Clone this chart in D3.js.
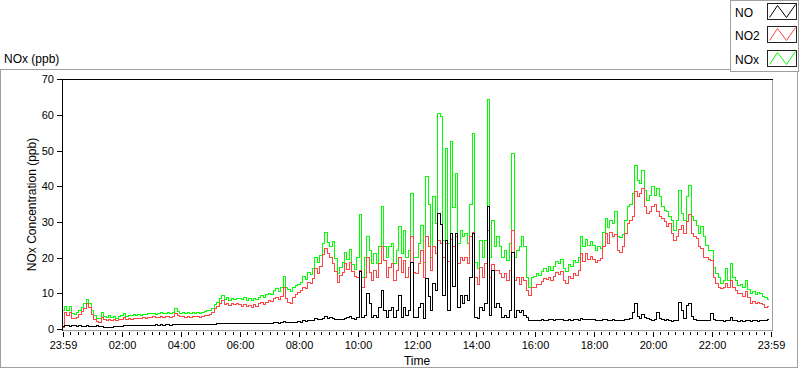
<!DOCTYPE html>
<html><head><meta charset="utf-8">
<script src="https://cdn.jsdelivr.net/npm/d3@7"></script>
<style>
html,body{margin:0;padding:0;background:#fff;}
svg{display:block;font-family:"Liberation Sans",Arial,sans-serif;}
</style></head><body>
<svg id="c" width="800" height="369"></svg>
<script>
// ---- data (5-minute values, one row per hour) ----
const seriesNames = ["NO", "NO2", "NOx"];
const seriesColors = ["#000000", "#ff4444", "#00ff00"];
const stepMinutes = 5;

const noValues = [
  0.6, 1.0, 0.9, 0.7, 0.9, 0.8, 0.7, 0.8, 0.6, 0.7, 0.8, 0.7,
  0.7, 0.6, 0.8, 0.6, 0.7, 0.5, 0.4, 0.5, 0.5, 0.6, 0.6, 0.7,
  0.7, 0.8, 0.8, 0.9, 0.8, 0.9, 0.9, 0.8, 1.0, 0.9, 1.0, 1.0,
  1.0, 1.0, 1.1, 1.0, 1.1, 1.0, 1.1, 1.1, 1.0, 1.2, 1.2, 1.1,
  1.1, 1.1, 1.2, 1.1, 1.2, 1.1, 1.2, 1.1, 1.2, 1.2, 1.2, 1.2,
  1.2, 1.3, 1.3, 1.4, 1.4, 1.5, 1.4, 1.5, 1.4, 1.5, 1.4, 1.5,
  1.4, 1.5, 1.4, 1.5, 1.4, 1.5, 1.6, 1.5, 1.5, 1.6, 1.5, 1.6,
  1.6, 1.5, 1.7, 1.7, 1.6, 1.8, 2.0, 1.9, 1.7, 1.8, 1.8, 1.9,
  2.0, 1.9, 2.2, 2.1, 2.3, 2.2, 2.4, 2.8, 2.5, 2.7, 3.0, 3.4,
  3.0, 3.2, 2.8, 2.6, 2.5, 2.7, 2.6, 2.9, 3.2, 3.5, 2.8, 2.6,
  3.3, 16.0, 3.3, 3.8, 9.9, 7.0, 3.3, 3.8, 3.3, 6.0, 10.8, 5.0,
  3.3, 5.0, 6.0, 3.3, 5.0, 9.3, 3.3, 6.0, 3.8, 5.0, 18.7, 3.3,
  3.3, 6.0, 7.0, 3.0, 14.0, 9.0, 5.0, 12.7, 10.8, 32.3, 29.4, 9.3,
  24.8, 5.0, 26.7, 12.0, 26.7, 6.0, 9.3, 7.0, 9.3, 8.0, 14.5, 26.7,
  3.3, 3.0, 6.0, 5.0, 7.0, 34.2, 3.8, 16.4, 6.0, 7.0, 6.0, 3.3,
  3.8, 3.3, 5.0, 21.5, 3.3, 5.0, 4.5, 5.0, 3.8, 3.3, 2.4, 2.4,
  2.3, 2.4, 2.2, 2.5, 2.4, 2.3, 2.6, 2.5, 2.4, 2.7, 2.5, 2.6,
  2.4, 2.3, 2.5, 2.4, 2.6, 2.5, 2.4, 2.8, 2.6, 2.5, 2.7, 2.5,
  2.5, 2.3, 2.4, 2.2, 2.5, 2.6, 2.4, 2.3, 2.5, 2.4, 2.2, 2.3,
  2.3, 2.5, 2.6, 2.8, 4.5, 7.0, 3.5, 3.0, 4.0, 3.2, 2.8, 2.6,
  2.4, 2.6, 4.7, 3.0, 2.5, 2.2, 2.6, 2.3, 2.1, 2.4, 2.2, 7.5,
  5.0, 3.0, 6.5, 7.0, 3.5, 2.6, 2.4, 2.3, 2.4, 2.2, 2.3, 2.2,
  4.2, 2.5, 2.3, 2.2, 2.3, 2.1, 2.2, 2.3, 3.2, 2.4, 2.2, 2.1,
  2.2, 2.1, 2.3, 2.2, 2.1, 2.2, 2.3, 2.1, 2.2, 2.3, 2.4, 2.5
];

const no2Values = [
  0.3, 4.5, 3.8, 4.6, 3.0, 2.9, 3.3, 4.0, 4.8, 5.8, 7.0, 6.0,
  4.0, 2.6, 2.1, 1.9, 3.3, 2.5, 2.4, 2.7, 2.3, 2.5, 2.3, 2.6,
  2.7, 3.2, 2.6, 2.8, 2.7, 2.9, 2.8, 3.0, 2.9, 3.1, 3.0, 3.2,
  3.2, 3.4, 3.1, 3.3, 3.4, 3.2, 3.4, 3.5, 3.3, 3.4, 4.3, 3.7,
  3.4, 3.5, 3.2, 3.5, 3.3, 3.5, 3.4, 3.4, 3.3, 3.5, 3.7, 3.8,
  4.1, 4.5, 5.6, 6.3, 7.2, 7.8, 6.9, 7.2, 6.5, 7.0, 6.8, 7.1,
  6.8, 6.3, 6.9, 6.2, 6.6, 6.1, 6.7, 6.3, 7.0, 7.3, 6.8, 7.4,
  8.0, 7.6, 8.6, 8.8, 8.3, 9.0, 11.6, 8.5, 7.5, 7.2, 8.9, 9.6,
  10.3, 10.8, 11.7, 11.2, 13.0, 12.6, 14.2, 16.8, 15.6, 17.5, 20.8, 22.5,
  21.0, 20.0, 18.4, 16.2, 13.1, 15.0, 15.8, 18.2, 16.6, 18.5, 16.0, 14.6,
  14.5, 16.4, 11.7, 14.5, 20.0, 15.9, 13.6, 16.4, 14.5, 18.3, 23.0, 19.3,
  14.5, 17.3, 18.3, 13.6, 16.4, 20.0, 15.9, 19.3, 14.5, 17.3, 25.8, 15.9,
  15.5, 18.3, 22.0, 14.5, 25.8, 23.0, 16.4, 23.0, 21.0, 24.8, 24.0, 20.0,
  24.0, 19.0, 25.0, 23.0, 25.8, 18.3, 20.0, 19.3, 20.0, 18.3, 25.8, 27.0,
  14.5, 12.5, 17.3, 14.5, 18.3, 27.6, 14.5, 18.0, 16.4, 16.4, 15.5, 14.5,
  15.5, 13.6, 16.4, 27.6, 13.6, 14.5, 12.5, 14.5, 13.6, 10.8, 9.3, 11.7,
  11.7, 12.3, 12.5, 13.2, 14.0, 13.8, 14.4, 13.6, 14.6, 15.8, 15.2, 16.2,
  13.5, 12.8, 14.6, 14.0, 15.5, 15.0, 16.4, 21.0, 19.0, 21.0, 19.5, 20.2,
  19.5, 18.5, 19.2, 19.8, 23.0, 26.7, 24.0, 27.0, 25.8, 26.5, 22.0, 21.5,
  23.0, 26.7, 29.5, 30.5, 31.4, 38.5, 37.0, 38.0, 39.4, 34.2, 32.3, 33.0,
  34.2, 35.0, 33.0, 31.4, 31.0, 30.0, 28.6, 29.5, 26.8, 24.8, 26.0, 28.0,
  29.0, 26.8, 30.0, 32.0, 26.8, 26.0, 25.2, 23.0, 22.4, 20.0, 20.0, 19.5,
  19.2, 14.5, 12.8, 11.7, 11.2, 11.5, 12.7, 11.7, 13.6, 11.6, 10.8, 9.8,
  9.8, 9.2, 10.5, 8.8, 7.0, 7.6, 7.0, 7.5, 7.2, 6.8, 6.0, 6.2
];

const noxValues = [
  5.0, 6.3, 5.2, 6.2, 4.3, 4.0, 4.5, 5.2, 6.0, 7.0, 8.2, 7.2,
  5.0, 3.6, 3.0, 2.8, 4.6, 3.4, 3.2, 3.6, 3.1, 3.4, 3.0, 3.5,
  3.6, 4.4, 3.5, 3.8, 3.6, 3.9, 3.7, 4.0, 3.8, 4.1, 3.9, 4.2,
  4.2, 4.4, 4.1, 4.3, 4.5, 4.2, 4.4, 4.6, 4.3, 4.5, 5.6, 4.8,
  4.4, 4.6, 4.2, 4.5, 4.3, 4.6, 4.4, 4.5, 4.3, 4.6, 4.8, 5.0,
  5.2, 5.6, 6.8, 7.5, 8.6, 9.4, 8.3, 8.7, 7.9, 8.4, 8.1, 8.5,
  8.6, 8.2, 8.8, 8.0, 8.4, 7.9, 8.5, 8.1, 8.9, 9.3, 8.7, 9.5,
  10.0, 9.6, 10.8, 11.2, 10.5, 11.5, 14.8, 11.6, 10.9, 10.4, 11.6, 12.2,
  12.4, 13.0, 14.6, 13.8, 15.9, 15.2, 17.0, 20.0, 18.6, 20.5, 24.0, 27.0,
  24.2, 23.0, 24.6, 19.8, 15.6, 17.3, 18.6, 21.5, 19.4, 22.2, 18.0, 16.5,
  20.0, 32.0, 14.5, 20.0, 25.8, 22.0, 18.3, 21.0, 18.3, 23.0, 34.2, 23.0,
  20.0, 23.0, 24.0, 18.3, 22.0, 28.6, 21.0, 27.7, 20.0, 22.0, 38.0, 20.0,
  20.0, 24.0, 29.0, 18.7, 42.6, 35.0, 20.0, 37.0, 29.5, 60.4, 59.7, 24.8,
  50.6, 24.0, 52.5, 34.0, 43.6, 24.0, 27.7, 26.0, 26.7, 24.0, 35.0, 54.8,
  18.7, 17.0, 24.8, 20.0, 24.8, 64.2, 20.0, 30.4, 23.0, 26.0, 23.0, 20.0,
  22.0, 19.3, 24.0, 49.2, 20.0, 22.0, 23.0, 26.0, 23.0, 14.5, 11.7, 14.5,
  14.6, 15.4, 15.0, 16.0, 16.8, 16.2, 17.5, 16.4, 17.6, 19.0, 18.2, 19.5,
  17.0, 16.2, 18.0, 17.5, 19.2, 18.6, 20.0, 26.0, 23.0, 25.0, 23.5, 24.6,
  23.5, 22.0, 23.0, 22.5, 27.0, 31.0, 28.5, 30.4, 29.5, 32.8, 26.0, 25.5,
  26.5, 30.4, 34.2, 35.0, 38.0, 45.9, 41.7, 40.7, 44.5, 38.9, 36.0, 37.5,
  39.8, 37.5, 39.5, 37.0, 34.2, 33.3, 33.0, 31.5, 30.4, 27.6, 30.4, 38.9,
  32.3, 30.4, 37.0, 40.3, 31.4, 30.4, 29.0, 26.8, 28.6, 26.0, 23.5, 22.0,
  22.0, 17.3, 15.5, 14.5, 12.7, 13.5, 17.0, 13.6, 18.3, 14.5, 13.6, 12.2,
  12.5, 11.5, 13.6, 11.0, 9.8, 10.5, 9.5, 10.2, 9.8, 9.0, 8.9, 8.2
];

const xTickMinutes = [0, 120, 240, 360, 480, 600, 720, 840, 960, 1080, 1200, 1320, 1440];
const xTickLabels = ["23:59", "02:00", "04:00", "06:00", "08:00", "10:00", "12:00", "14:00", "16:00", "18:00", "20:00", "22:00", "23:59"];
const yTicks = [0, 10, 20, 30, 40, 50, 60, 70];

// ---- drawing ----
const svg = d3.select("#c");
const x = d3.scaleLinear().domain([0, 1440]).range([63, 771]);
const y = d3.scaleLinear().domain([0, 70]).range([328.8, 79.3]);

// panel frame
svg.append("rect").attr("x", 0.5).attr("y", 69.5).attr("width", 797).attr("height", 298)
  .attr("fill", "#fff").attr("stroke", "#a0a0a0").attr("shape-rendering", "crispEdges");

// title
svg.append("text").attr("x", 4).attr("y", 62.5).attr("font-size", 12).attr("fill", "#000").text("NOx (ppb)");

// plot area frame (gray right/bottom)
const g = svg.append("g");
g.append("line").attr("x1", 772.5).attr("x2", 772.5).attr("y1", 79).attr("y2", 331)
  .attr("stroke", "#a0a0a0").attr("shape-rendering", "crispEdges");
g.append("line").attr("x1", 62).attr("x2", 773).attr("y1", 330.5).attr("y2", 330.5)
  .attr("stroke", "#a0a0a0").attr("shape-rendering", "crispEdges");

// series lines (staircase, as in the reference)
const allSeries = [noValues, no2Values, noxValues];
const drawOrder = [2, 1, 0];
const line = d3.line()
  .x((d, i) => x(i * stepMinutes))
  .y(d => y(d))
  .curve(d3.curveStep);
drawOrder.forEach(k => {
  g.append("path").datum(allSeries[k])
    .attr("d", line)
    .attr("fill", "none")
    .attr("stroke", seriesColors[k])
    .attr("stroke-width", 1)
    .attr("shape-rendering", "crispEdges");
});

// black left/top frame
g.append("line").attr("x1", 62.5).attr("x2", 62.5).attr("y1", 79).attr("y2", 331)
  .attr("stroke", "#000").attr("shape-rendering", "crispEdges");
g.append("line").attr("x1", 62).attr("x2", 773).attr("y1", 79.5).attr("y2", 79.5)
  .attr("stroke", "#000").attr("shape-rendering", "crispEdges");

// y axis
const yAxis = d3.axisLeft(y).tickValues(yTicks).tickSize(5).tickSizeOuter(0).tickPadding(3);
const ya = svg.append("g").attr("transform", "translate(62,0)").call(yAxis);
ya.select(".domain").remove();
ya.selectAll("line").attr("stroke", "#000").attr("shape-rendering", "crispEdges");
ya.selectAll("text").attr("font-size", 11).attr("fill", "#000").attr("font-family", "Liberation Sans, Arial, sans-serif");

// x axis: minor ticks every 15 min
const minorTicks = d3.range(0, 1441, 15).filter(m => m % 120 !== 0);
const xa = svg.append("g");
xa.selectAll("line.minor").data(minorTicks).join("line").attr("class", "minor")
  .attr("x1", d => Math.round(x(d)) + 0.5).attr("x2", d => Math.round(x(d)) + 0.5)
  .attr("y1", 332).attr("y2", 335).attr("stroke", "#000").attr("shape-rendering", "crispEdges");
const xAxis = d3.axisBottom(x).tickValues(xTickMinutes)
  .tickFormat((d, i) => xTickLabels[i]).tickSize(5).tickSizeOuter(0).tickPadding(4);
const xb = svg.append("g").attr("transform", "translate(0,332)").call(xAxis);
xb.select(".domain").remove();
xb.selectAll("line").attr("stroke", "#000").attr("shape-rendering", "crispEdges");
xb.selectAll("text").attr("font-size", 11).attr("fill", "#000").attr("font-family", "Liberation Sans, Arial, sans-serif");

// axis titles
svg.append("text").attr("x", 417).attr("y", 365).attr("text-anchor", "middle")
  .attr("font-size", 12).attr("fill", "#000").text("Time");
svg.append("text").attr("transform", "translate(35.5,204.5) rotate(-90)")
  .attr("text-anchor", "middle").attr("font-size", 12).attr("fill", "#000")
  .text("NOx Concentration (ppb)");

// legend
const lg = svg.append("g");
lg.append("rect").attr("x", 730.5).attr("y", 0.5).attr("width", 68).attr("height", 71)
  .attr("fill", "#fff").attr("stroke", "#a0a0a0").attr("shape-rendering", "crispEdges");
const legendY = [3.5, 26.5, 50.5];
seriesNames.forEach((name, i) => {
  lg.append("text").attr("x", 735).attr("y", legendY[i] + 13.5).attr("font-size", 12)
    .attr("fill", "#000").text(name);
  lg.append("rect").attr("x", 767.5).attr("y", legendY[i]).attr("width", 29).attr("height", 16)
    .attr("fill", "#fff").attr("stroke", "#222").attr("shape-rendering", "crispEdges");
  const bx = 767.5, by = legendY[i];
  lg.append("path")
    .attr("d", d3.line()([[bx + 2, by + 14], [bx + 10, by + 2], [bx + 19, by + 14], [bx + 28, by + 1]]))
    .attr("fill", "none").attr("stroke", seriesColors[i]).attr("stroke-width", 1);
});
</script>
</body></html>
